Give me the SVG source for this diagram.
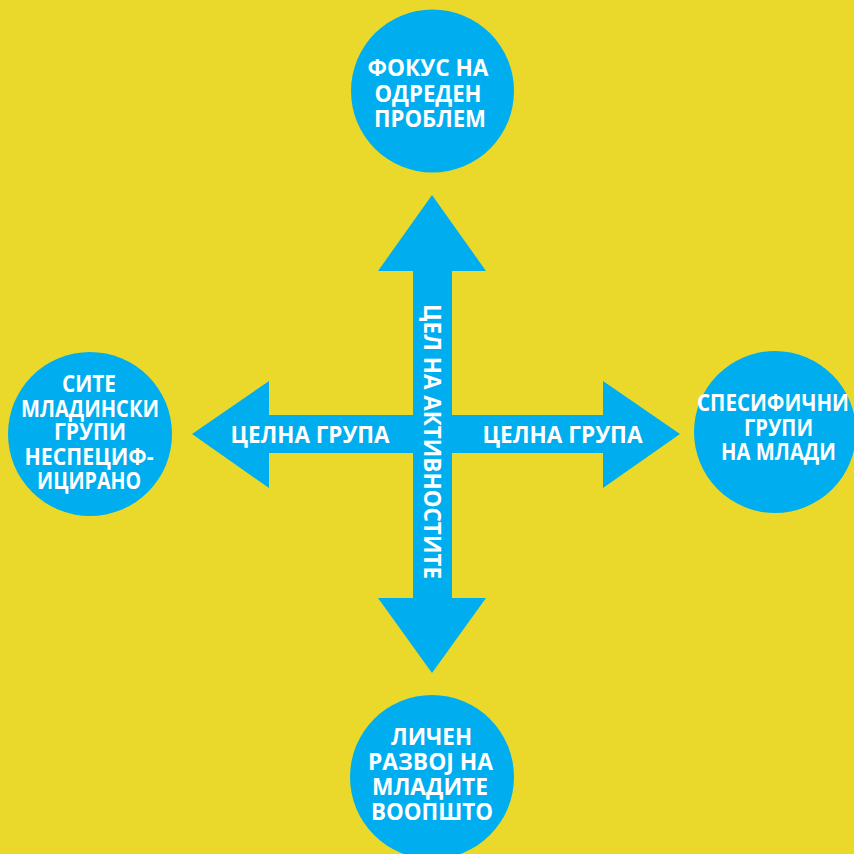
<svg xmlns="http://www.w3.org/2000/svg" width="854" height="854" viewBox="0 0 854 854">
<style>
.bg{fill:#EAD92B}
.blue{fill:#00AEEF}
.t{font-family:"Open Sans","Liberation Sans",sans-serif;font-weight:bold;font-size:22.5px;fill:#FFFFFF;text-anchor:middle}
</style>
<rect class="bg" x="0" y="0" width="854" height="854"/>
<g id="connectors">
<polygon id="arrows" class="blue" points="432,195 486,271 452,271 452,415 603,415 603,381 680,434 603,488 603,453 452,453 452,598 486,598 432,673 378,598 413,598 413,453 269,453 269,488 192,434 269,381 269,415 413,415 413,271 378,271"/>
<text class="t" x="310" y="443" textLength="159" lengthAdjust="spacingAndGlyphs">ЦЕЛНА ГРУПА</text>
<text class="t" x="562.5" y="443" textLength="160" lengthAdjust="spacingAndGlyphs">ЦЕЛНА ГРУПА</text>
<text class="t" transform="translate(424,441.5) rotate(90)" x="0" y="0" textLength="275" lengthAdjust="spacingAndGlyphs">ЦЕЛ НА АКТИВНОСТИТЕ</text>
</g>
<g id="top">
<circle class="blue" cx="432.5" cy="91" r="81.5"/>
<text class="t" x="428" y="76" textLength="121" lengthAdjust="spacingAndGlyphs">ФОКУС НА</text>
<text class="t" x="428" y="102" textLength="107" lengthAdjust="spacingAndGlyphs">ОДРЕДЕН</text>
<text class="t" x="430" y="127" textLength="112" lengthAdjust="spacingAndGlyphs">ПРОБЛЕМ</text>
</g>
<g id="left">
<circle class="blue" cx="90" cy="434" r="82"/>
<text class="t" x="89" y="392" textLength="54" lengthAdjust="spacingAndGlyphs">СИТЕ</text>
<text class="t" x="90" y="417" textLength="138" lengthAdjust="spacingAndGlyphs">МЛАДИНСКИ</text>
<text class="t" x="90" y="440" textLength="72" lengthAdjust="spacingAndGlyphs">ГРУПИ</text>
<text class="t" x="89" y="465" textLength="129" lengthAdjust="spacingAndGlyphs">НЕСПЕЦИФ-</text>
<text class="t" x="89" y="489" textLength="104" lengthAdjust="spacingAndGlyphs">ИЦИРАНО</text>
</g>
<g id="right">
<circle class="blue" cx="775" cy="432" r="81"/>
<text class="t" x="773" y="411" textLength="152" lengthAdjust="spacingAndGlyphs">СПЕСИФИЧНИ</text>
<text class="t" x="778.5" y="436" textLength="69" lengthAdjust="spacingAndGlyphs">ГРУПИ</text>
<text class="t" x="778.5" y="460" textLength="115" lengthAdjust="spacingAndGlyphs">НА МЛАДИ</text>
</g>
<g id="bottom">
<circle class="blue" cx="432" cy="777" r="82"/>
<text class="t" x="431.5" y="745" textLength="81" lengthAdjust="spacingAndGlyphs">ЛИЧЕН</text>
<text class="t" x="430.5" y="770" textLength="125" lengthAdjust="spacingAndGlyphs">РАЗВОЈ НА</text>
<text class="t" x="430" y="795" textLength="116" lengthAdjust="spacingAndGlyphs">МЛАДИТЕ</text>
<text class="t" x="432" y="820" textLength="122" lengthAdjust="spacingAndGlyphs">ВООПШТО</text>
</g>
</svg>
